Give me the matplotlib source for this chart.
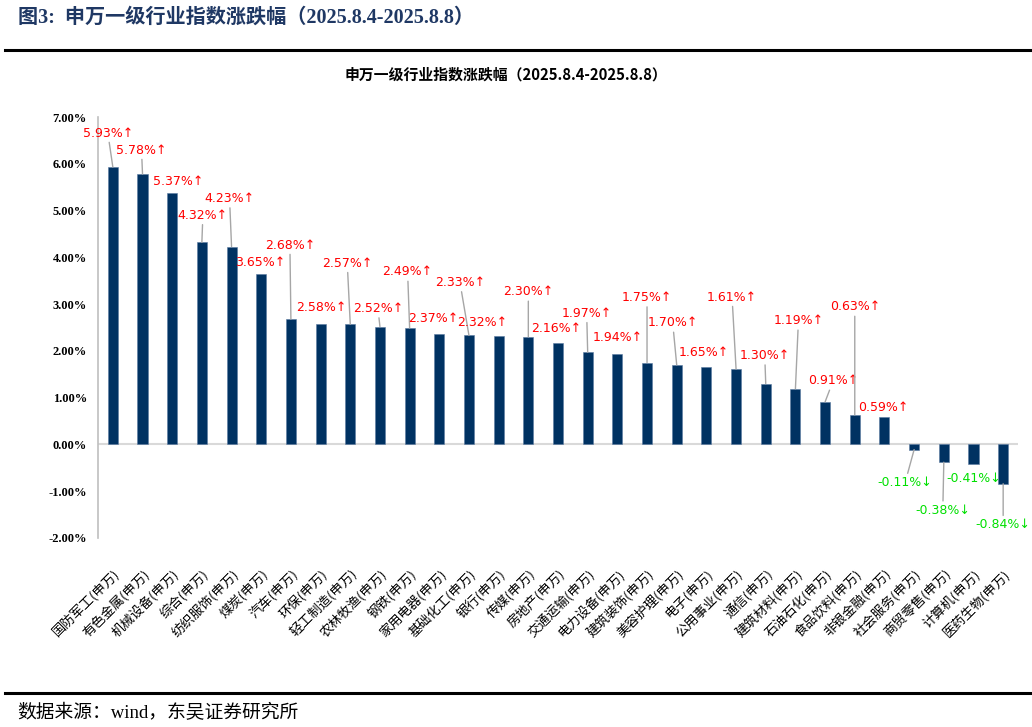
import matplotlib
matplotlib.use('Agg')
import matplotlib.pyplot as plt
import numpy as np

plt.rcParams['font.family'] = ['Liberation Serif', 'Noto Sans CJK SC', 'DejaVu Sans']

# 申万一级行业 2025.8.4-2025.8.8 周涨跌幅 (%)
industries = ['国防军工', '有色金属', '机械设备', '综合', '纺织服饰', '煤炭', '汽车', '环保',
              '轻工制造', '农林牧渔', '钢铁', '家用电器', '基础化工', '银行', '传媒', '房地产',
              '交通运输', '电力设备', '建筑装饰', '美容护理', '电子', '公用事业', '通信',
              '建筑材料', '石油石化', '食品饮料', '非银金融', '社会服务', '商贸零售', '计算机',
              '医药生物']
changes = [5.93, 5.78, 5.37, 4.32, 4.23, 3.65, 2.68, 2.58, 2.57, 2.52, 2.49, 2.37, 2.33,
           2.32, 2.30, 2.16, 1.97, 1.94, 1.75, 1.70, 1.65, 1.61, 1.30, 1.19, 0.91, 0.63,
           0.59, -0.11, -0.38, -0.41, -0.84]
yticks = [-2, -1, 0, 1, 2, 3, 4, 5, 6, 7]

# label offsets from bar end (pixels) and whether a leader line is drawn
label_dx = [-5, -1, 6, 1, -2, -1, -1, 1, -3, -2, -2, -6, -9, -16, 0, -2,
            -1, 0, 0, -4, -3, -4, -1, 3, 8, 0, -1, -9, -1, 0, 0]
label_dy = [34, 24, 12, 27, 48, 11, 74, 16, 61, 18, 56, 15, 53, 13, 45, 15,
            39, 16, 65, 42, 15, 72, 28, 68, 21, 108, 9, -33, -48, -15, -41]
leader = [1, 1, 0, 1, 1, 0, 1, 0, 1, 1, 1, 0, 1, 0, 1, 0,
          1, 0, 1, 1, 0, 1, 1, 1, 1, 1, 0, 1, 1, 0, 1]

navy = '#003262'
cjk = ['Noto Sans CJK SC', 'DejaVu Sans']

fig = plt.figure(figsize=(10.32, 7.27), dpi=100)
ax = fig.add_axes([98 / 1032, 1 - 538 / 727, 920 / 1032, 421 / 727])

x = np.arange(len(industries))
ax.bar(x, changes, width=0.34, color=navy, edgecolor='#5b7aa0', linewidth=0.4, zorder=3)
ax.axhline(0, color='#d9d9d9', lw=1.5, zorder=2)

ax.set_xlim(-0.5, len(industries) - 0.5)
ax.set_ylim(-2, 7)
ax.set_yticks(yticks)
ax.set_yticklabels(['%.2f%%' % t for t in yticks], fontsize=9, fontweight='bold')
ax.tick_params(axis='y', length=0, pad=8)
ax.set_xticks(x)
ax.set_xticklabels([n + '(申万)' for n in industries], rotation=45, ha='right',
                   va='top', rotation_mode='anchor', fontsize=9.5, family=cjk)
ax.tick_params(axis='x', length=0, pad=21)
for s in ['top', 'right', 'bottom']:
    ax.spines[s].set_visible(False)
ax.spines['left'].set_color('#bfbfbf')
ax.spines['left'].set_linewidth(1.2)

for i, v in enumerate(changes):
    txt = '%.2f%%%s' % (v, '↑' if v >= 0 else '↓')
    col = '#ff0000' if v >= 0 else '#00e000'
    ap = dict(arrowstyle='-', color='#a6a6a6', lw=1, shrinkA=0, shrinkB=0) if leader[i] else None
    ax.annotate(txt, xy=(i, v), xytext=(label_dx[i], label_dy[i]), textcoords='offset pixels',
                ha='center', va='center', fontsize=9, color=col, family=['DejaVu Sans'],
                arrowprops=ap, annotation_clip=False, zorder=4)

fig.text(506 / 1032, 1 - 75 / 727, '申万一级行业指数涨跌幅（2025.8.4-2025.8.8）',
         fontsize=10.7, fontweight='bold', family=cjk, ha='center', va='center')

fig.text(18 / 1032, 1 - 18 / 727, '图3:  申万一级行业指数涨跌幅（2025.8.4-2025.8.8）',
         fontsize=14.5, fontweight='bold', color='#1f3864', va='center', ha='left')
fig.add_artist(plt.Line2D([5 / 1032, 1030 / 1032], [1 - 50 / 727] * 2, color='black', lw=2.2))
fig.add_artist(plt.Line2D([5 / 1032, 1030 / 1032], [1 - 693 / 727] * 2, color='black', lw=2.2))
fig.text(17 / 1032, 1 - 713 / 727, '数据来源：wind，东吴证券研究所', fontsize=13.5,
         va='center', ha='left')

fig.savefig('out.png', dpi=100)
plt.close(fig)
